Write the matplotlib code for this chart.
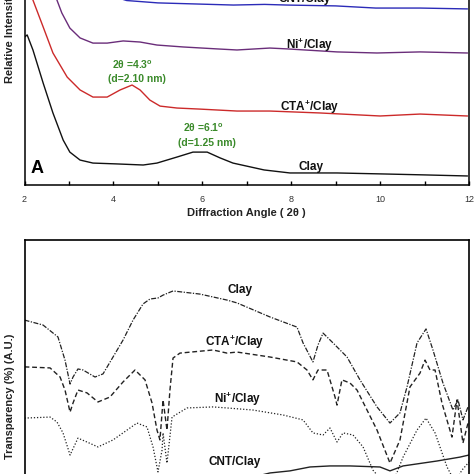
import numpy as np
import matplotlib
matplotlib.use("Agg")
import matplotlib.pyplot as plt

plt.rcParams['font.family'] = ['Liberation Sans', 'DejaVu Sans']
plt.rcParams['mathtext.default'] = 'regular'

# ---- panel A: XRD (2theta, relative intensity) ----
clay_x = [2.0, 2.06, 2.19, 2.42, 2.64, 2.87, 3.02, 3.25, 3.54, 4.08, 4.67, 4.98, 5.43,
          5.79, 6.11, 6.40, 6.69, 7.39, 7.97, 9.03, 10.15, 10.99, 11.96]
clay_y = [68.8, 69.8, 62.8, 47.4, 33.5, 20.9, 15.3, 11.6, 10.2, 9.8, 9.3, 10.2, 13.0,
          15.3, 15.3, 12.6, 10.2, 7.0, 5.6, 5.6, 5.1, 4.7, 4.2]

cta_x = [2.0, 2.19, 2.42, 2.64, 2.96, 3.25, 3.54, 3.86, 4.15, 4.42, 4.60, 4.82, 5.05,
         5.43, 5.95, 6.78, 7.52, 8.65, 10.00, 10.90, 11.96]
cta_y = [102.3, 86.0, 73.5, 61.4, 50.2, 44.2, 40.9, 40.9, 44.2, 46.5, 44.2, 39.5, 36.7,
         35.8, 35.3, 34.4, 34.4, 33.5, 32.1, 33.0, 32.1]

ni_x = [2.0, 2.46, 2.73, 2.84, 3.02, 3.25, 3.54, 3.86, 4.22, 4.60, 4.98, 5.57, 6.33,
        6.78, 7.52, 7.91, 9.03, 9.93, 10.90, 11.96]
ni_y = [140.0, 104.7, 86.0, 80.0, 73.0, 68.4, 66.0, 66.0, 67.0, 66.5, 65.1, 64.2, 63.3,
        62.8, 63.7, 63.3, 61.9, 61.4, 61.9, 61.4]

cnt_x = [2.0, 3.0, 3.6, 3.95, 4.3, 5.0, 6.7, 7.4, 7.9, 9.0, 9.9, 10.9, 11.96]
cnt_y = [150.0, 120.0, 95.0, 88.0, 85.8, 84.7, 83.7, 84.0, 83.7, 83.3, 82.3, 82.3, 81.9]

# ---- panel B: FTIR (wavenumber, transparency) ----
ftir_clay_x = [4000, 3850, 3729, 3672, 3631, 3607, 3567, 3526, 3429, 3364, 3283, 3202,
               3121, 3040, 2984, 2919, 2878, 2797, 2579, 2360, 2279, 2012, 1793, 1744,
               1664, 1623, 1582, 1501, 1388, 1283, 1145, 1040, 959, 902, 821, 748, 692,
               611, 530, 489, 449, 408]
ftir_clay_y = [69.2, 67.3, 62.7, 53.8, 44.6, 47.3, 50.4, 50.0, 47.3, 48.5, 55.0, 61.5,
               69.2, 75.4, 77.3, 77.7, 78.8, 80.4, 79.2, 76.9, 75.8, 70.4, 66.5, 60.4,
               53.1, 59.6, 64.2, 60.4, 55.0, 46.2, 35.8, 29.6, 33.5, 43.5, 60.4, 65.8,
               57.7, 45.0, 34.6, 38.5, 30.8, 35.8]

ftir_cta_x = [4000, 3793, 3712, 3672, 3631, 3607, 3567, 3494, 3405, 3308, 3202, 3105,
              3024, 2967, 2927, 2903, 2878, 2846, 2822, 2797, 2741, 2473, 2360, 2279,
              2012, 1793, 1712, 1664, 1623, 1550, 1485, 1469, 1429, 1364, 1307, 1226,
              1145, 1040, 959, 878, 797, 756, 716, 675, 619, 538, 497, 449, 408]
ftir_cta_y = [51.2, 50.8, 47.3, 42.3, 33.8, 37.3, 42.3, 41.2, 37.7, 39.6, 45.4, 50.0,
              46.2, 37.3, 26.9, 23.1, 38.5, 26.9, 42.3, 54.6, 56.5, 57.7, 56.5, 56.9,
              55.0, 53.1, 50.0, 46.2, 50.0, 50.0, 39.6, 36.5, 46.2, 45.0, 42.3, 34.6,
              26.9, 14.2, 23.1, 43.5, 48.8, 53.8, 50.0, 50.0, 37.3, 24.2, 38.5, 21.9, 29.6]

ftir_ni_x = [4000, 3793, 3737, 3688, 3631, 3567, 3494, 3405, 3283, 3089, 3008, 2959,
             2919, 2886, 2878, 2846, 2805, 2684, 2473, 2360, 2149, 1906, 1744, 1664,
             1582, 1526, 1469, 1420, 1339, 1258, 1178, 1040, 934, 821, 748, 675, 578,
             514, 457, 400]
ftir_ni_y = [31.5, 31.9, 30.0, 25.8, 17.3, 23.8, 22.3, 20.4, 23.1, 29.6, 28.1, 20.4,
             10.8, 19.2, 25.8, 14.2, 31.9, 35.4, 35.8, 35.4, 34.6, 32.7, 30.8, 25.8,
             25.0, 27.7, 22.3, 25.8, 25.0, 20.4, 11.5, 3.8, 16.5, 26.9, 31.5, 25.8,
             12.7, 6.9, 11.5, 14.6]

ftir_cnt_x = [4000, 3000, 2174, 2012, 1850, 1688, 1526, 1364, 1121, 1040, 934, 659, 473, 400]
ftir_cnt_y = [3.0, 5.0, 8.5, 10.4, 11.2, 12.7, 13.1, 13.1, 12.7, 11.2, 13.1, 15.0, 16.5, 17.3]

fig = plt.figure(figsize=(4.74, 4.74), dpi=100)
W = H = 474.0

# top panel: x from 24.5px to 469px, axis line at y=185px, top above the image
ax1 = fig.add_axes([24.5 / W, (H - 185) / H, 444.5 / W, 215 / H])
ax1.plot(clay_x, clay_y, color='#111111', lw=1.0)
ax1.plot(cta_x, cta_y, color='#cc2a2a', lw=1.0)
ax1.plot(ni_x, ni_y, color='#6a2d7a', lw=1.0)
ax1.plot(cnt_x, cnt_y, color='#2b2bb8', lw=1.0)
ax1.set_xlim(2, 12)
ax1.set_ylim(0, 100)
ax1.set_xticks([2, 4, 6, 8, 10, 12])
ax1.set_xticks([3, 5, 7, 9, 11], minor=True)
ax1.set_yticks([])
ax1.tick_params(axis='x', which='both', direction='in', length=3, width=1,
                labelsize=6.5, labelcolor='#333333', pad=7)
for s in ax1.spines.values():
    s.set_linewidth(1.1)
ax1.set_xlabel('Diffraction Angle ( 2θ )', fontsize=8, fontweight='bold',
               color='#222222', labelpad=3)

lab = dict(fontsize=8.5, fontweight='bold', ha='center', va='center', color='#111111')
ax1.text(8.31, 86.5, 'CNT/Clay', **lab)
ax1.text(8.42, 65.1, 'Ni$^{+}$/Clay', **lab)
ax1.text(8.42, 36.3, 'CTA$^{+}$/Clay', **lab)
ax1.text(8.44, 8.4, 'Clay', **lab)
ax1.text(2.28, 7.9, 'A', fontsize=13, fontweight='bold', ha='center', va='center')

grn = dict(fontsize=7.5, fontweight='bold', ha='center', va='center', color='#3a8a2a')
ax1.text(4.44, 55.8, '2θ =4.3$^{o}$', **grn)
ax1.text(4.53, 49.3, '(d=2.10 nm)', **grn)
ax1.text(6.02, 26.5, '2θ =6.1$^{o}$', **grn)
ax1.text(6.11, 19.5, '(d=1.25 nm)', **grn)

fig.text(10 / W, (H - 83) / H, 'Relative Intensity (A.U.)', rotation=90,
         ha='center', va='bottom', fontsize=8, fontweight='bold', color='#222222')

# bottom panel: frame top at y=240px, bottom below the image
ax2 = fig.add_axes([24.5 / W, -26 / H, 444.5 / W, 260 / H])
ax2.plot(ftir_clay_x, ftir_clay_y, color='#222222', lw=0.9, ls=(0, (4, 1.2, 1, 1.2)))
ax2.plot(ftir_cta_x, ftir_cta_y, color='#222222', lw=1.0, ls=(0, (3.5, 2)))
ax2.plot(ftir_ni_x, ftir_ni_y, color='#222222', lw=0.9, ls=(0, (1, 1.5)))
ax2.plot(ftir_cnt_x, ftir_cnt_y, color='#222222', lw=1.0)
ax2.set_xlim(4000, 400)
ax2.set_ylim(0, 100)
ax2.set_xticks([])
ax2.set_yticks([])
for s in ax2.spines.values():
    s.set_linewidth(1.2)

ax2.text(2255, 80.8, 'Clay', **lab)
ax2.text(2295, 60.8, 'CTA$^{+}$/Clay', **lab)
ax2.text(2271, 38.8, 'Ni$^{+}$/Clay', **lab)
ax2.text(2295, 14.6, 'CNT/Clay', **lab)

fig.text(10 / W, (H - 334) / H, 'Transparency (%) (A.U.)', rotation=90,
         ha='center', va='top', fontsize=8, fontweight='bold', color='#222222')

fig.savefig('out.png', dpi=100)
